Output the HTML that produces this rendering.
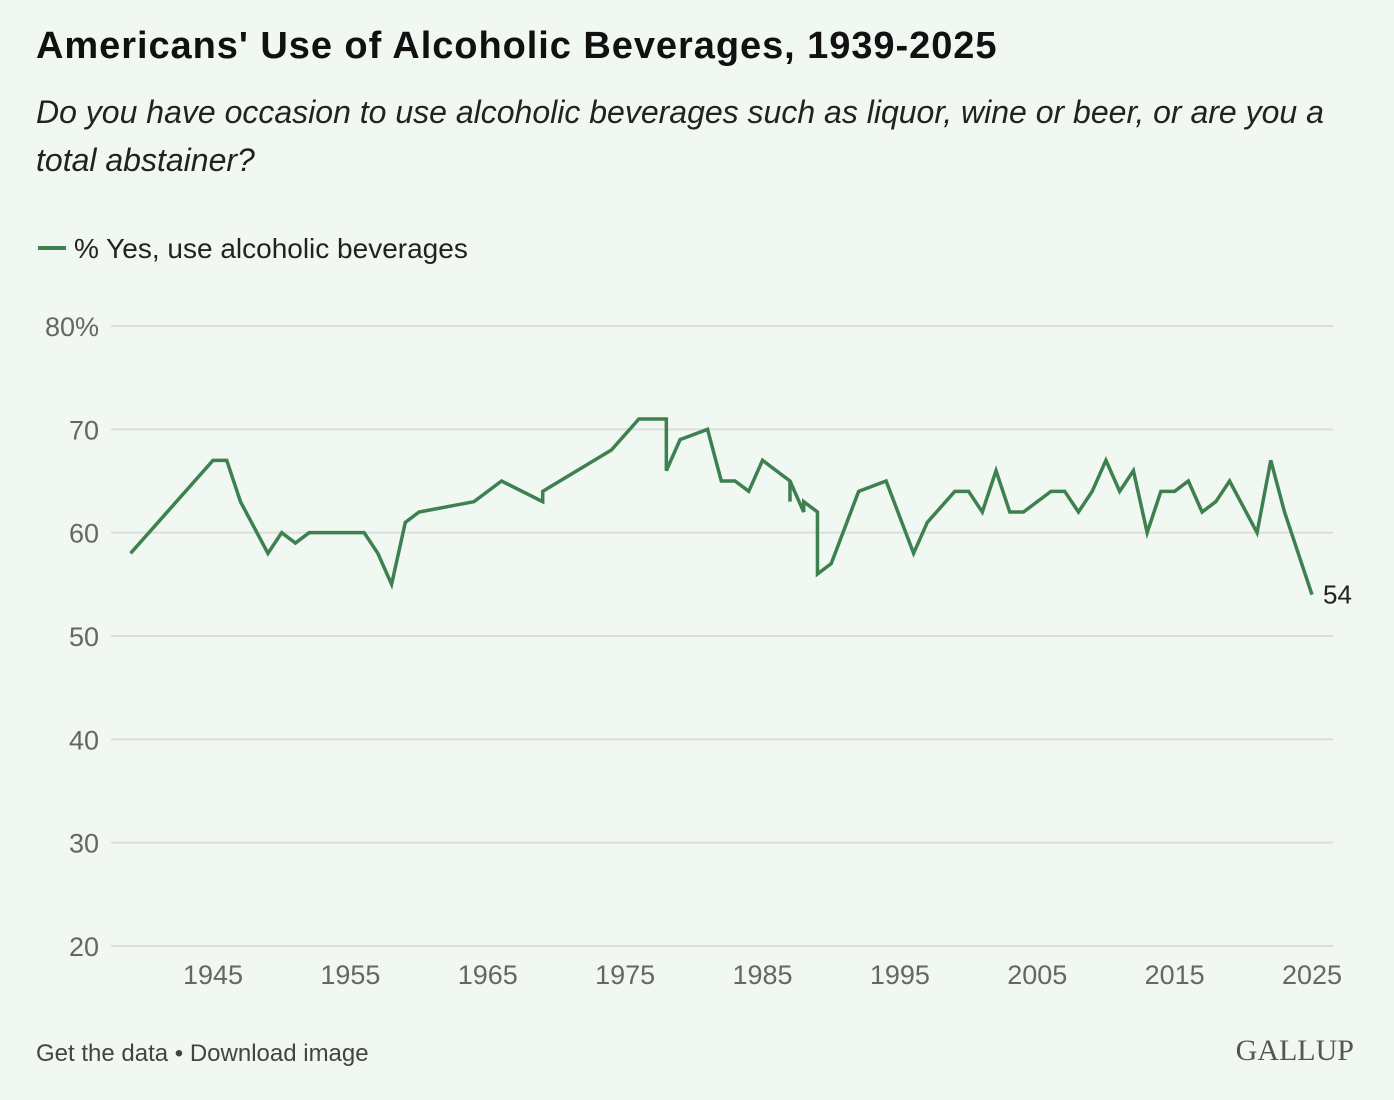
<!DOCTYPE html>
<html><head><meta charset="utf-8"><style>
body{margin:0;background:#f1f7f1;width:1394px;height:1100px;overflow:hidden;font-family:"Liberation Sans",sans-serif;}
.t{position:absolute;left:36px;top:25px;font-size:38px;font-weight:bold;color:#111;letter-spacing:0.95px;}
.s{position:absolute;left:36px;top:88px;width:1330px;font-size:32px;font-style:italic;color:#222;line-height:48px;}
</style></head><body>
<div class="t">Americans' Use of Alcoholic Beverages, 1939-2025</div>
<div class="s">Do you have occasion to use alcoholic beverages such as liquor, wine or beer, or are you a total abstainer?</div>
<svg id="c" width="1394" height="1100" style="position:absolute;left:0;top:0">
<g><line x1="38" y1="248" x2="66" y2="248" stroke="#3d8150" stroke-width="4"/><text x="74" y="258" font-size="28" fill="#222">% Yes, use alcoholic beverages</text></g>
<text x="36" y="1061" font-size="24" fill="#444">Get the data • Download image</text>
<text x="1354" y="1060" font-size="30" fill="#555" text-anchor="end" font-family="Liberation Serif,serif">GALLUP</text>
</svg>
<script>
const years=[1939,1945,1946,1947,1949,1950,1951,1952,1956,1957,1958,1959,1960,1964,1966,1969,1969,1974,1976,1978,1978,1979,1981,1982,1983,1984,1985,1987,1987,1987,1988,1988,1989,1989,1990,1992,1994,1996,1997,1999,2000,2001,2002,2003,2004,2006,2007,2008,2009,2010,2011,2012,2013,2014,2015,2016,2017,2018,2019,2021,2022,2023,2025];
const values=[58,67,67,63,58,60,59,60,60,58,55,61,62,63,65,63,64,68,71,71,66,69,70,65,65,64,67,65,63,65,62,63,62,56,57,64,65,58,61,64,64,62,66,62,62,64,64,62,64,67,64,66,60,64,64,65,62,63,65,60,67,62,54];
const yTicks=[20,30,40,50,60,70,80];
const xTicks=[1945,1955,1965,1975,1985,1995,2005,2015,2025];
const svg=document.getElementById('c');const NS='http://www.w3.org/2000/svg';
const X=y=>213+(y-1945)*(1312-213)/80;
const Y=v=>946-(v-20)*(946-326)/60;
function mk(t,a,p){const e=document.createElementNS(NS,t);for(const k in a)e.setAttribute(k,a[k]);(p||svg).appendChild(e);return e;}
yTicks.forEach(v=>{
const l=mk('line',{x1:111,x2:1333,y1:Y(v),y2:Y(v),stroke:'#dcdedb','stroke-width':2});


const t=mk('text',{x:99,y:Y(v)+10,'font-size':27,fill:'#666','text-anchor':'end'});t.textContent=v===80?'80%':v;


});
xTicks.forEach(y=>{const t=mk('text',{x:X(y),y:984,'font-size':27,fill:'#666','text-anchor':'middle'});t.textContent=y;


});
const p=mk('polyline',{points:years.map((y,i)=>X(y)+','+Y(values[i])).join(' '),fill:'none',stroke:'#3d8150','stroke-width':3.5,'stroke-linejoin':'miter'});


const n=years.length-1;
const lab=mk('text',{x:X(years[n])+11,y:Y(values[n])+9,'font-size':26,fill:'#222'});lab.textContent=values[n];


</script>
</body></html>
